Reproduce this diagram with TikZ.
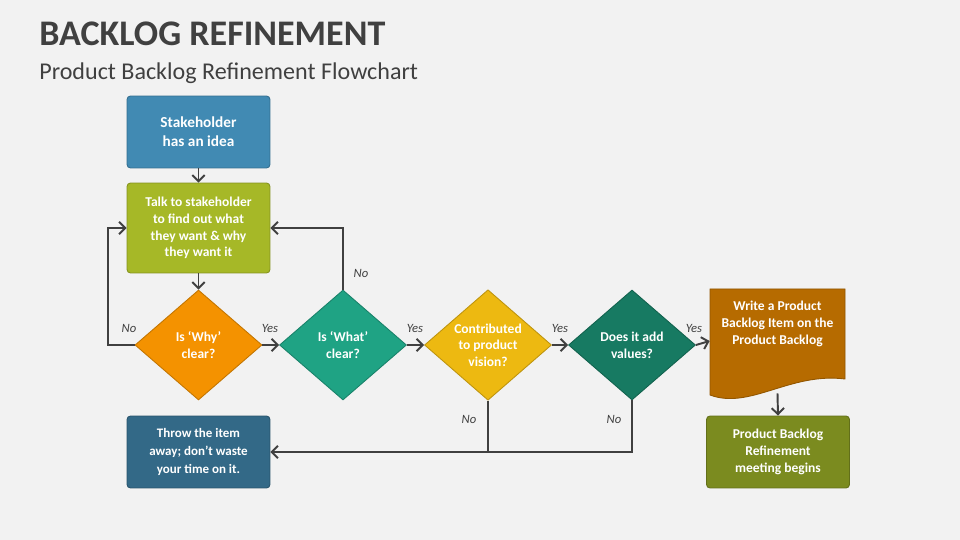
\documentclass[tikz,border=0pt]{standalone}
\usepackage{fontspec}
\setmainfont{Carlito}
\usetikzlibrary{shapes.geometric,arrows.meta}
\definecolor{bggray}{HTML}{F2F2F2}
\definecolor{ink}{HTML}{404040}
\definecolor{cstake}{HTML}{418AB3}
\definecolor{ctalk}{HTML}{A6B827}
\definecolor{cwhy}{HTML}{F49200}
\definecolor{cwhat}{HTML}{1FA384}
\definecolor{ccontrib}{HTML}{EDB911}
\definecolor{cdoes}{HTML}{177A62}
\definecolor{cdoc}{HTML}{B66B00}
\definecolor{cmeet}{HTML}{7B8B1F}
\definecolor{cthrow}{HTML}{336987}

\begin{document}
\begin{tikzpicture}[x=0.02cm,y=-0.02cm,
  box/.style={rectangle,rounded corners=2pt,draw=#1!80!black,fill=#1,line width=0.5pt,
    minimum width=2.86cm,minimum height=1.44cm,align=center,inner sep=1pt,
    text=white,font=\bfseries\fontsize{7.7}{9.5}\selectfont},
  decision/.style={diamond,draw=#1!80!black,fill=#1,line width=0.5pt,
    minimum width=2.54cm,minimum height=2.2cm,inner sep=0pt,align=center,
    text=white,font=\bfseries\fontsize{7.7}{9.5}\selectfont},
  lbl/.style={text=ink,font=\itshape\fontsize{7.2}{8}\selectfont},
  link/.style={draw=ink,line width=1.1pt},
  arrow/.style={link,-{Straight Barb[length=3.5pt,width=7pt]}}]

% background
\fill[bggray] (0,0) rectangle (960,540);

% titles
\node[anchor=base west,inner sep=0pt,text=ink,font=\bfseries\fontsize{20.5}{24}\selectfont]
  (title) at (39,46) {BACKLOG REFINEMENT};
\node[anchor=base west,inner sep=0pt,text=ink,font=\fontsize{13.7}{16}\selectfont]
  (subtitle) at (39,80) {Product Backlog Refinement Flowchart};

% boxes
\node[box=cstake,font=\bfseries\fontsize{8.7}{10.8}\selectfont] (stake) at (198.5,132)
  {Stakeholder\\has an idea};
\node[box=ctalk,minimum height=1.8cm] (talk) at (198.5,228)
  {Talk to stakeholder\\to find out what\\they want \& why\\they want it};
\node[box=cthrow,font=\bfseries\fontsize{7.4}{10}\selectfont] (throw) at (198.5,452)
  {Throw the item\\away; don’t waste\\your time on it.};
\node[box=cmeet] (meet) at (778,452)
  {Product Backlog\\Refinement\\meeting begins};

% decisions
\node[decision=cwhy] (why) at (198.5,345) {Is ‘Why’\\clear?};
\node[decision=cwhat] (what) at (343,345) {Is ‘What’\\clear?};
\node[decision=ccontrib] (contrib) at (488,345) {Contributed\\to product\\vision?};
\node[decision=cdoes] (does) at (632,345) {Does it add\\values?};

% document
\node[rectangle,minimum width=2.7cm,minimum height=2.08cm,inner sep=0pt] (doc) at (777.5,341) {};
\fill[cdoc,draw=cdoc!80!black,line width=0.5pt] (710,289) -- (845,289) -- (845,379)
  .. controls (790,372) and (750,410) .. (710,395) -- cycle;
\node[align=center,text=white,font=\bfseries\fontsize{7.7}{9.5}\selectfont]
  (doctext) at (777.5,324) {Write a Product\\Backlog Item on the\\Product Backlog};

% connectors
\draw[arrow] (stake) -- (talk);
\draw[arrow] (talk) -- (why);
\draw[arrow] (why.west) -- ++(-27,0) |- (talk.west);
\draw[arrow] (what.north) |- (talk.east);
\draw[arrow] (why.east) -- (what.west);
\draw[arrow] (what.east) -- (contrib.west);
\draw[arrow] (contrib.east) -- (does.west);
\draw[arrow] (does.east) -- (doc.west);
\draw[arrow] (contrib.south) |- (throw.east);
\draw[link] (does.south) |- (contrib.south |- throw.east);
\draw[arrow] (doc.south) -- (meet.north);

% labels
\node[lbl] (nowhy) at (129,328) {No};
\node[lbl] (nowhat) at (361,273) {No};
\node[lbl] (yeswhy) at (270,328) {Yes};
\node[lbl] (yeswhat) at (415,328) {Yes};
\node[lbl] (yescontrib) at (560,328) {Yes};
\node[lbl] (yesdoes) at (694,328) {Yes};
\node[lbl] (nocontrib) at (469,419) {No};
\node[lbl] (nodoes) at (614,419) {No};
\end{tikzpicture}
\end{document}
